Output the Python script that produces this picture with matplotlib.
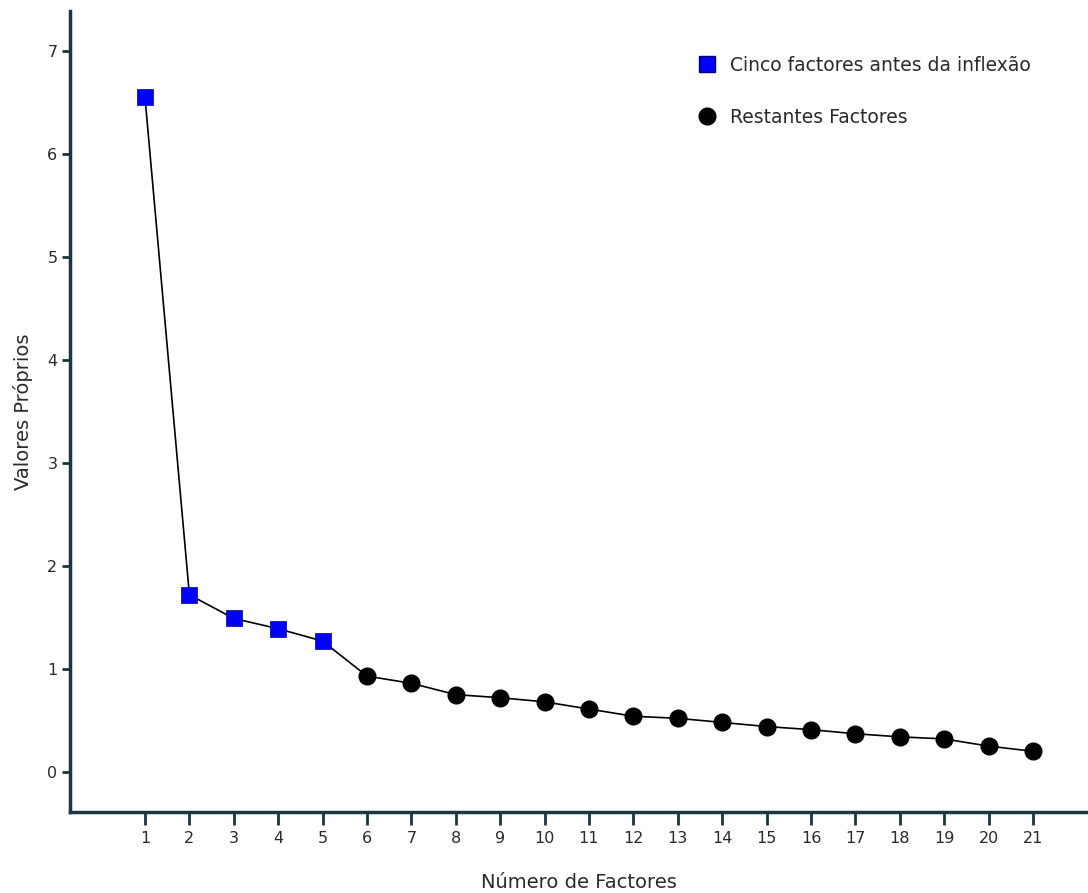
import matplotlib.pyplot as plt
from matplotlib.lines import Line2D

factores = list(range(1, 22))
valores = [6.55, 1.72, 1.49, 1.39, 1.27, 0.93, 0.86, 0.75, 0.72, 0.68, 0.61,
           0.54, 0.52, 0.48, 0.44, 0.41, 0.37, 0.34, 0.32, 0.25, 0.20]
n_antes = 5

plt.rcParams['font.family'] = ['DejaVu Sans']
spine_cor = '#1c3540'
texto_cor = '#2a2a2a'

fig = plt.figure(figsize=(10.88, 8.93), dpi=100)
ax = fig.add_axes([0.0643, 0.0907, 0.9357, 0.897])

ax.plot(factores, valores, color='black', lw=1.2, zorder=1)
ax.plot(factores[n_antes:], valores[n_antes:], 'o', color='black', ms=12, zorder=2)
ax.plot(factores[:n_antes], valores[:n_antes], 's', color='#0000ff', mec='#000080',
        mew=0.5, ms=11, zorder=3)

ax.set_xlim(-0.69, 22.24)
ax.set_ylim(-0.39, 7.39)
ax.set_xticks(factores)
ax.set_yticks(range(0, 8))
ax.tick_params(labelsize=11.5, labelcolor=texto_cor, color=spine_cor, width=2)
ax.tick_params(axis='x', length=9, pad=5)
ax.tick_params(axis='y', length=6, pad=3)
for s in ['top', 'right']:
    ax.spines[s].set_visible(False)
for s in ['left', 'bottom']:
    ax.spines[s].set_color(spine_cor)
    ax.spines[s].set_linewidth(2.5)

ax.set_xlabel('Número de Factores', fontsize=14, color=texto_cor, labelpad=19)
ax.set_ylabel('Valores Próprios', fontsize=14, color=texto_cor, labelpad=10)

handles = [
    Line2D([], [], marker='s', ls='', color='#0000ff', mec='#000080', ms=11,
           label='Cinco factores antes da inflexão'),
    Line2D([], [], marker='o', ls='', color='black', ms=12, label='Restantes Factores'),
]
ax.legend(handles=handles, loc='upper left', bbox_to_anchor=(0.6, 0.965), frameon=False,
          fontsize=13.5, handletextpad=0.7, labelspacing=1.75, handlelength=1.0,
          labelcolor=texto_cor)

fig.savefig('out.png', dpi=100)
